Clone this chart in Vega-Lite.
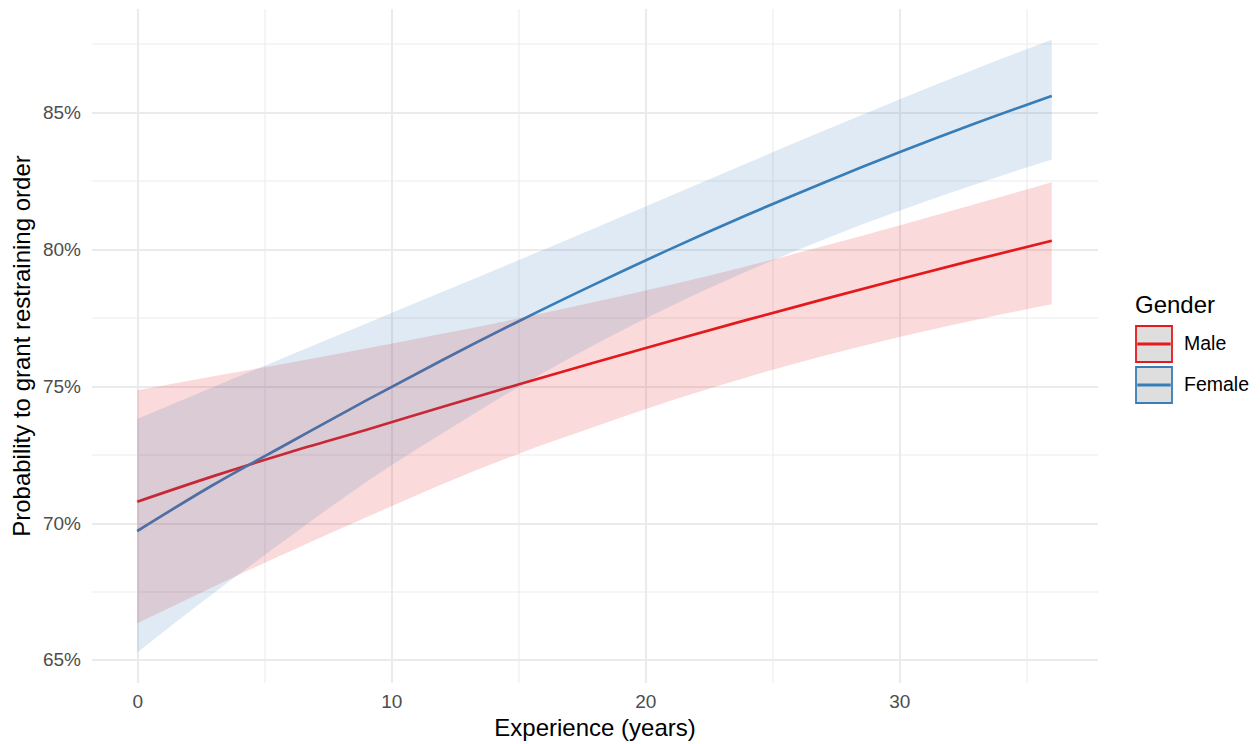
{
  "$schema": "https://vega.github.io/schema/vega-lite/v6.json",
  "width": 1006,
  "height": 674,
  "autosize": {"type": "none"},
  "padding": {"left": 91.5, "top": 8.5, "right": 162.5, "bottom": 61.5},
  "background": "white",
  "config": {"view": {"stroke": null}, "font": "Liberation Sans"},
  "data": {"values": [
    {"x": 0, "g": "Male", "fit": 0.70779, "lo": 0.66344, "hi": 0.74851},
    {"x": 3, "g": "Male", "fit": 0.71713, "lo": 0.67679, "hi": 0.75365},
    {"x": 6, "g": "Male", "fit": 0.72588, "lo": 0.68966, "hi": 0.75853},
    {"x": 9, "g": "Male", "fit": 0.73400, "lo": 0.70199, "hi": 0.76372},
    {"x": 12, "g": "Male", "fit": 0.74238, "lo": 0.71419, "hi": 0.76909},
    {"x": 15, "g": "Male", "fit": 0.75060, "lo": 0.72526, "hi": 0.77471},
    {"x": 18, "g": "Male", "fit": 0.75865, "lo": 0.73517, "hi": 0.78069},
    {"x": 21, "g": "Male", "fit": 0.76651, "lo": 0.74466, "hi": 0.78703},
    {"x": 24, "g": "Male", "fit": 0.77419, "lo": 0.75326, "hi": 0.79382},
    {"x": 27, "g": "Male", "fit": 0.78169, "lo": 0.76101, "hi": 0.80104},
    {"x": 30, "g": "Male", "fit": 0.78902, "lo": 0.76796, "hi": 0.80864},
    {"x": 33, "g": "Male", "fit": 0.79618, "lo": 0.77419, "hi": 0.81649},
    {"x": 36, "g": "Male", "fit": 0.80310, "lo": 0.77986, "hi": 0.82445},
    {"x": 0, "g": "Female", "fit": 0.69709, "lo": 0.65276, "hi": 0.73804},
    {"x": 3, "g": "Female", "fit": 0.71399, "lo": 0.67438, "hi": 0.74972},
    {"x": 6, "g": "Female", "fit": 0.72940, "lo": 0.69500, "hi": 0.76127},
    {"x": 9, "g": "Female", "fit": 0.74473, "lo": 0.71493, "hi": 0.77280},
    {"x": 12, "g": "Female", "fit": 0.75947, "lo": 0.73271, "hi": 0.78435},
    {"x": 15, "g": "Female", "fit": 0.77363, "lo": 0.74961, "hi": 0.79597},
    {"x": 18, "g": "Female", "fit": 0.78716, "lo": 0.76511, "hi": 0.80769},
    {"x": 21, "g": "Female", "fit": 0.80012, "lo": 0.77916, "hi": 0.81953},
    {"x": 24, "g": "Female", "fit": 0.81247, "lo": 0.79191, "hi": 0.83142},
    {"x": 27, "g": "Female", "fit": 0.82421, "lo": 0.80349, "hi": 0.84319},
    {"x": 30, "g": "Female", "fit": 0.83537, "lo": 0.81403, "hi": 0.85471},
    {"x": 33, "g": "Female", "fit": 0.84597, "lo": 0.82376, "hi": 0.86583},
    {"x": 36, "g": "Female", "fit": 0.85600, "lo": 0.83277, "hi": 0.87647}
  ]},
  "encoding": {
    "x": {
      "field": "x", "type": "quantitative",
      "scale": {"domain": [-1.8, 37.8], "nice": false, "zero": false},
      "axis": {
        "title": "Experience (years)",
        "values": [0, 5, 10, 15, 20, 25, 30, 35],
        "labelExpr": "datum.value % 10 === 0 ? datum.label : ''",
        "gridWidth": {"condition": {"test": "datum.value % 10 === 0", "value": 2.1}, "value": 1.05},
        "gridColor": "#EBEBEB",
        "ticks": false, "domain": false,
        "labelFontSize": 19, "labelColor": "#4D4D4D", "labelPadding": 10, "labelFlush": false,
        "titleFontSize": 24, "titleFontWeight": "normal", "titleColor": "#000000", "titlePadding": 5
      }
    }
  },
  "layer": [
    {
      "mark": {"type": "line", "strokeWidth": 2.7, "interpolate": "monotone"},
      "encoding": {
        "y": {
          "field": "fit", "type": "quantitative",
          "scale": {"domain": [0.64178, 0.8879], "nice": false, "zero": false},
          "axis": {
            "title": "Probability to grant restraining order",
            "values": [0.65, 0.675, 0.7, 0.725, 0.75, 0.775, 0.8, 0.825, 0.85, 0.875],
            "format": ".0%",
            "labelExpr": "abs(round(datum.value * 1000) % 50) === 0 ? datum.label : ''",
            "gridWidth": {"condition": {"test": "abs(round(datum.value * 1000) % 50) === 0", "value": 2.1}, "value": 1.05},
            "gridColor": "#EBEBEB",
            "ticks": false, "domain": false,
            "labelFontSize": 19, "labelColor": "#4D4D4D", "labelPadding": 11,
            "titleFontSize": 24, "titleFontWeight": "normal", "titleColor": "#000000", "titlePadding": 8
          }
        },
        "stroke": {
          "field": "g", "type": "nominal",
          "scale": {"domain": ["Male", "Female"], "range": ["#E41A1C", "#377EB8"]},
          "legend": {
            "title": "Gender", "orient": "none", "legendX": 1043.5, "legendY": 285.5,
            "titleFontSize": 24, "titleFontWeight": "normal", "titleColor": "#000000", "titlePadding": 7,
            "labelFontSize": 19.5, "labelColor": "#000000", "labelOffset": 11,
            "symbolType": "M-1,-1H1V1H-1Z M-0.88,-0.04H0.88V0.04H-0.88Z",
            "symbolSize": 1296, "symbolStrokeWidth": 1.8, "rowPadding": -10,
            "symbolFillColor": "#DEDEDE",
            "encode": {"symbols": {"update": {
              "fill": {"value": "#DEDEDE"},
              "fillOpacity": {"value": 1}
            }}}
          }
        }
      }
    },
    {
      "mark": {"type": "area", "opacity": 0.16, "interpolate": "monotone"},
      "encoding": {
        "y": {
          "field": "lo", "type": "quantitative",
          "scale": {"domain": [0.64178, 0.8879], "nice": false, "zero": false},
          "axis": {
            "title": "Probability to grant restraining order",
            "values": [0.65, 0.675, 0.7, 0.725, 0.75, 0.775, 0.8, 0.825, 0.85, 0.875],
            "format": ".0%",
            "labelExpr": "abs(round(datum.value * 1000) % 50) === 0 ? datum.label : ''",
            "gridWidth": {"condition": {"test": "abs(round(datum.value * 1000) % 50) === 0", "value": 2.1}, "value": 1.05},
            "gridColor": "#EBEBEB",
            "ticks": false, "domain": false,
            "labelFontSize": 19, "labelColor": "#4D4D4D", "labelPadding": 11,
            "titleFontSize": 24, "titleFontWeight": "normal", "titleColor": "#000000", "titlePadding": 8
          }
        },
        "y2": {"field": "hi"},
        "fill": {
          "field": "g", "type": "nominal",
          "scale": {"domain": ["Female", "Male"], "range": ["#377EB8", "#E41A1C"]},
          "legend": null
        }
      }
    }
  ]
}
